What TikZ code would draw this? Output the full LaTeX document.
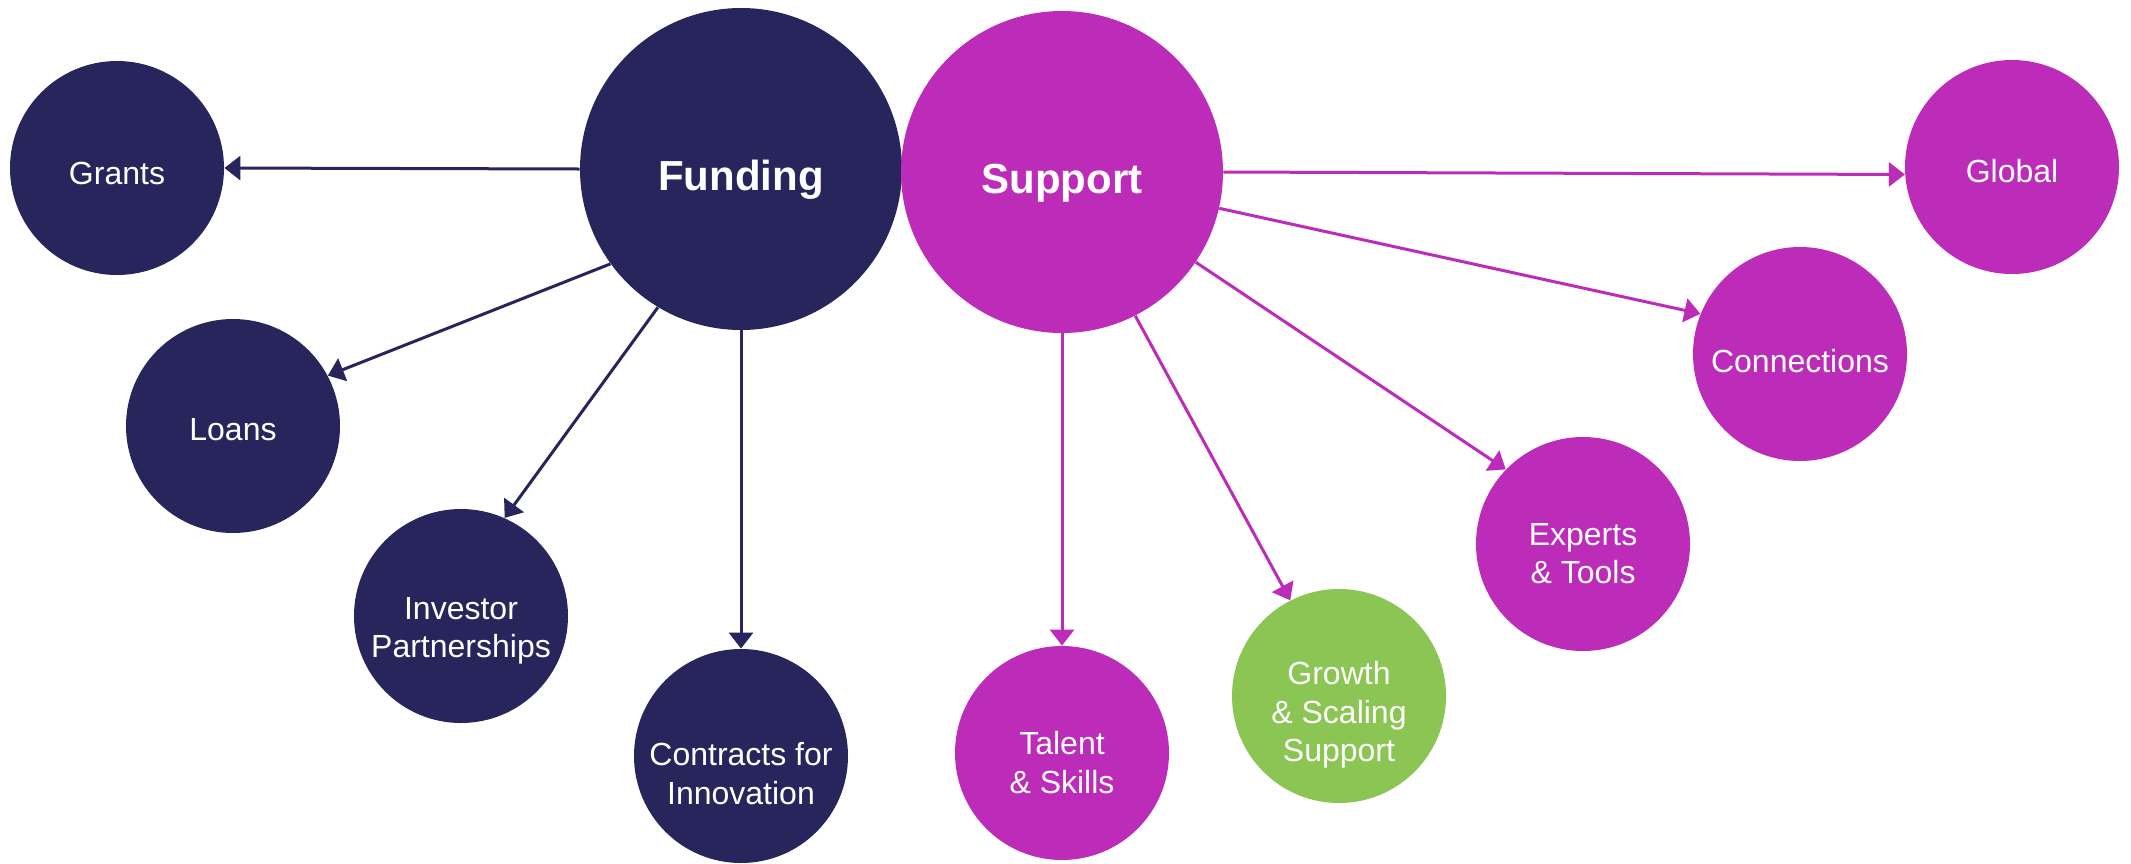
\documentclass[tikz,border=0pt]{standalone}
\usepackage{fontspec}
\setmainfont{Liberation Sans}
\usetikzlibrary{arrows.meta}

\definecolor{fundblue}{RGB}{39,37,91}
\definecolor{suppmag}{RGB}{189,43,185}
\definecolor{growgreen}{RGB}{139,197,83}

\tikzset{
    bigkreis/.style={circle, inner sep=0pt, minimum size=161pt},
    kreis/.style={circle, inner sep=0pt, minimum size=107pt},
    bigtext/.style={text=white, font=\fontsize{21}{25}\selectfont\bfseries},
    ktext/.style={text=white, align=center, font=\fontsize{16}{19.3}\selectfont},
    pfeil/.style={line width=1.5pt, -{Triangle[length=8pt,width=12pt]}}
}

\begin{document}
\begin{tikzpicture}[x=0.5pt, y=-0.5pt]
    \useasboundingbox (0,0) rectangle (2131,863);

    % Hauptkreise
    \node[bigkreis, fill=fundblue, label={[bigtext, yshift=-5.4pt]center:Funding}] (funding) at (741,169) {};
    \node[bigkreis, fill=suppmag, label={[bigtext, yshift=-5.4pt]center:Support}] (support) at (1062,172) {};

    % Funding-Kreise
    \node[kreis, fill=fundblue, label={[ktext, yshift=-2.7pt]center:Grants}] (grants) at (117,168) {};
    \node[kreis, fill=fundblue, label={[ktext, yshift=-2pt]center:Loans}] (loans) at (233,426) {};
    \node[kreis, fill=fundblue, label={[ktext, yshift=-7.5pt]center:Investor\\Partnerships}] (investor) at (461,616) {};
    \node[kreis, fill=fundblue, label={[ktext, yshift=-8.8pt]center:Contracts for\\Innovation}] (contracts) at (741,756) {};

    % Support-Kreise
    \node[kreis, fill=suppmag, label={[ktext, yshift=-4.8pt]center:Talent\\\& Skills}] (talent) at (1062,753) {};
    \node[kreis, fill=growgreen, label={[ktext, yshift=-9.5pt]center:Growth\\\& Scaling\\Support}] (growth) at (1339,696) {};
    \node[kreis, fill=suppmag, label={[ktext, yshift=-4.8pt]center:Experts\\\& Tools}] (experts) at (1583,544) {};
    \node[kreis, fill=suppmag, label={[ktext, yshift=-3.4pt]center:Connections}] (connections) at (1800,354) {};
    \node[kreis, fill=suppmag, label={[ktext, yshift=-2pt]center:Global}] (global) at (2012,167) {};

    % Pfeile Funding
    \draw[pfeil, fundblue] (funding.west) -- (grants.east);
    \draw[pfeil, fundblue] (funding.216) -- (loans.28);
    \draw[pfeil, fundblue] (funding.239) -- (investor.66);
    \draw[pfeil, fundblue] (funding.south) -- (contracts.north);

    % Pfeile Support
    \draw[pfeil, suppmag] (support.east) -- (global.184);
    \draw[pfeil, suppmag] (support.-13) -- (connections.158);
    \draw[pfeil, suppmag] (support.-34) -- (experts.136);
    \draw[pfeil, suppmag] (support.-63) -- (growth.117);
    \draw[pfeil, suppmag] (support.south) -- (talent.north);

\end{tikzpicture}
\end{document}
